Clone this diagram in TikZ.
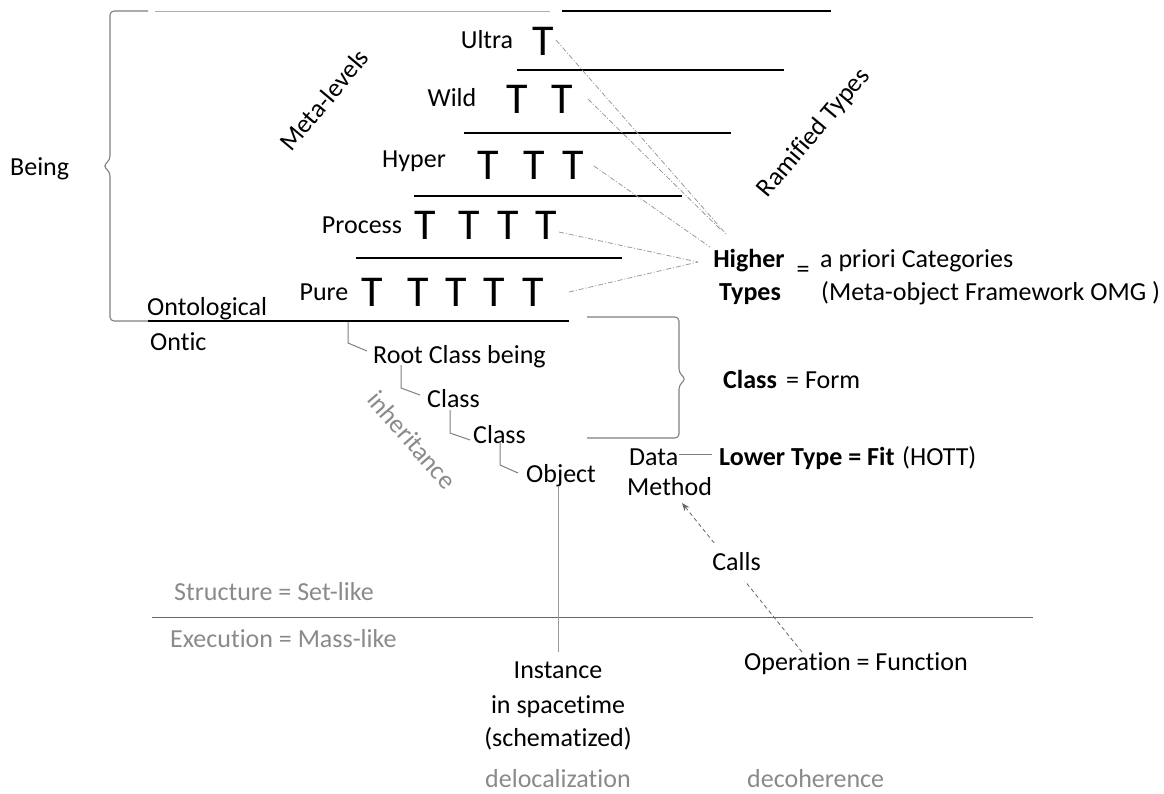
\documentclass[tikz,border=0pt]{standalone}
\usepackage{fontspec}
\setmainfont{Carlito}[Ligatures=NoCommon]
\usetikzlibrary{calc,arrows.meta}

\definecolor{notegray}{HTML}{8A8A8A}
\definecolor{rulegray}{HTML}{7F7F7F}
\definecolor{raygray}{HTML}{9A9A9A}
\definecolor{divgray}{HTML}{666666}

\tikzset{
  lbl/.style={inner sep=0pt, font=\fontsize{26}{31}\selectfont, anchor=base},
  lblw/.style={lbl, anchor=base west},
  strong/.style={font=\fontsize{26}{31}\selectfont\bfseries},
  note/.style={lbl, text=notegray},
  tee/.style={inner sep=0pt, font=\fontsize{44}{44}\selectfont},
  level/.style={line width=2.8pt, black},
  frame/.style={draw=rulegray, line width=1.1pt, rounded corners=4pt},
  ray/.style={draw=raygray, line width=0.8pt, dash pattern=on 5pt off 2pt on 1pt off 2pt},
  twig/.style={draw=rulegray, line width=1pt},
  callarrow/.style={draw=divgray, line width=0.8pt, dash pattern=on 4pt off 3pt,
    -{Stealth[length=8pt,width=6pt]}},
}

\begin{document}
\begin{tikzpicture}[x=1pt,y=-1pt]
\useasboundingbox (0,0) rectangle (1164,793);

% stacked level rules
\draw[level] (562,11) -- (831,11);
\draw[level] (517,70) -- (784,70);
\draw[level] (464,133) -- (731,133);
\draw[level] (414,196) -- (682,196);
\draw[level] (356,258) -- (622,258);
\draw[level] (148,321) -- (569,321);

% brace around the meta-levels
\draw[frame] (148,11) -- (110,11) -- (110,160) -- (103,166) -- (110,172) -- (110,321) -- (148,321);
\draw[draw=raygray!80, line width=0.8pt] (155,11) -- (550,11);

% brace around the class hierarchy
\draw[frame] (587,317) -- (679,317) -- (679,373) -- (686,379) -- (679,385) -- (679,438) -- (587,438);

% types per level
\node[tee] (tU)  at (543,41) {T};
\node[tee] (tW1) at (517,99) {T};
\node[tee] (tW2) at (562,99) {T};
\node[tee] (tH1) at (488,165) {T};
\node[tee] (tH2) at (534,165) {T};
\node[tee] (tH3) at (573,165) {T};
\node[tee] (tP1) at (425,225) {T};
\node[tee] (tP2) at (469,225) {T};
\node[tee] (tP3) at (508,225) {T};
\node[tee] (tP4) at (546,225) {T};
\node[tee] (tR1) at (372,292) {T};
\node[tee] (tR2) at (418,292) {T};
\node[tee] (tR3) at (456,292) {T};
\node[tee] (tR4) at (494,292) {T};
\node[tee] (tR5) at (533,292) {T};

% level names
\node[lbl] (ultra)   at (487,48)  {Ultra};
\node[lbl] (wild)    at (452,106) {Wild};
\node[lbl] (hyper)   at (414,167) {Hyper};
\node[lbl] (process) at (362,233) {Process};
\node[lbl] (pure)    at (324,300) {Pure};

\node[lblw] (being)       at (10,175)  {Being};
\node[lblw] (ontological) at (147,315) {Ontological};
\node[lblw] (ontic)       at (150,350) {Ontic};

\node[lbl, anchor=center, rotate=50] (meta)     at (324,100) {Meta-levels};
\node[lbl, anchor=center, rotate=50] (ramified) at (814,133) {Ramified Types};

% higher types
\node[lbl, strong] (higher) at (749,267) {Higher};
\node[lbl, strong] (types)  at (750,300) {Types};
\node[lbl] (eq) at (803,277) {=};
\node[lblw] (apriori) at (820,267) {a priori Categories};
\node[lblw] (mof)     at (821,300) {(Meta-object Framework OMG )};

\coordinate (hubA) at (726,234);
\coordinate (hubA2) at (721,230);
\coordinate (hubB) at (710,247);
\coordinate (hubC) at (698,262);
\draw[ray] ($(tU.east)+(2,-1)$) -- (hubA);
\draw[ray] ($(tW2.east)+(15,0)$) -- (hubA2);
\draw[ray] ($(tH3.east)+(10,1)$) -- (hubB);
\draw[ray] ($(tP4.east)+(2,7)$) -- (hubC);
\draw[ray] ($(tR5.east)+(25,0)$) -- (hubC);

% class hierarchy
\node[lblw] (root) at (373,363) {Root Class being};
\node[lblw] (cls1) at (427,407) {Class};
\node[lblw] (cls2) at (473,443) {Class};
\node[lblw] (obj)  at (526,482) {Object};

\coordinate (tap) at (348,322);
\draw[twig] (tap) -- (348,343) -- ($(root.base west)+(-6,-12)$);
\draw[twig] ($(root.base west)+(28,2)$) -- ++(0,23) -- ($(cls1.base west)+(-7,-12)$);
\draw[twig] ($(cls1.base west)+(23,3)$) -- ++(0,23) -- ($(cls2.base west)+(-3,-3)$);
\draw[twig] ($(cls2.base west)+(27,-1)$) -- ++(0,23) -- ($(obj.base west)+(-8,-9)$);

\node[note, anchor=center, rotate=-49] (inh) at (412,440) {inheritance};

\node[lblw, strong] (clsB) at (723,388) {Class};
\node[lblw] (form) at (786,388) {= Form};

\node[lblw] (data)   at (629,465) {Data};
\node[lblw] (method) at (627,495) {Method};
\node[lblw, strong] (lower) at (719,465) {Lower Type = Fit};
\node[lblw] (hott) at (902,465) {(HOTT)};
\draw[twig] ($(data.base east)+(1,-11)$) -- ($(lower.base west)+(-7,-11)$);

% execution side
\draw[draw=divgray, line width=1pt] (152,617) -- (1033,617);
\node[note, anchor=base west] (struct) at (174,600) {Structure = Set-like};
\node[note, anchor=base west] (exec)   at (170,647) {Execution = Mass-like};

\node[lblw] (op) at (744,670) {Operation = Function};
\coordinate (opTop) at (802,652);
\coordinate (methTip) at (682,503);
\draw[callarrow] (opTop) -- node[pos=0.604, xshift=7pt, lbl, anchor=center, fill=white, inner ysep=10pt, inner xsep=2pt] (calls) {Calls} (methTip);

\node[lbl] (inst1) at (558,678) {Instance};
\node[lbl] (inst2) at (558,713) {in spacetime};
\node[lbl] (inst3) at (558,746) {(schematized)};
\draw[draw=raygray, line width=1pt] ($(obj.base west)+(32,5)$) -- ($(inst1.north)+(0,-9)$);

\node[note] (deloc) at (558,787) {delocalization};
\node[note, anchor=base west] (decoh) at (747,787) {decoherence};
\end{tikzpicture}
\end{document}
